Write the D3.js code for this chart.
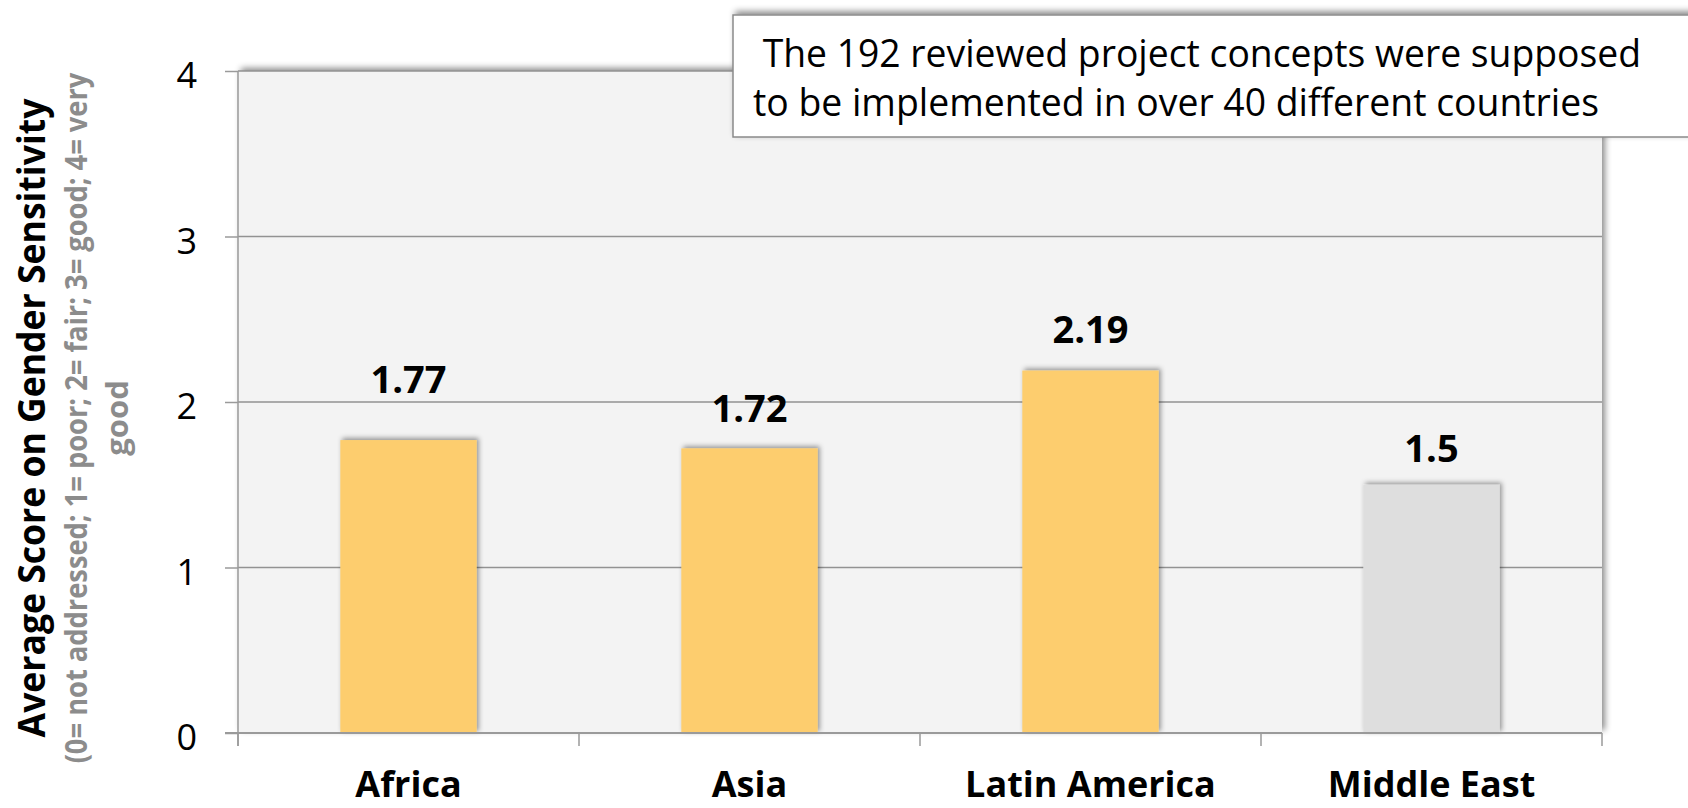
<!DOCTYPE html>
<html>
<head>
<meta charset="utf-8">
<script src="https://cdn.jsdelivr.net/npm/d3@7"></script>
<style>
  html, body { margin: 0; padding: 0; background: #fff; }
  svg { display: block; }
</style>
</head>
<body>
<svg id="chart" width="1688" height="808"></svg>
<script>
// ---------------- data ----------------
const categories = ["Africa", "Asia", "Latin America", "Middle East"];
const scores = [1.77, 1.72, 2.19, 1.5];
const valueLabels = ["1.77", "1.72", "2.19", "1.5"];
const yTicks = [0, 1, 2, 3, 4];
const yTickLabels = ["0", "1", "2", "3", "4"];
const yTitle = "Average Score on Gender Sensitivity";
const ySubtitle = ["(0= not addressed; 1= poor; 2= fair; 3= good; 4= very", "good"];
const noteLines = [" The 192 reviewed project concepts were supposed", "to be implemented in over 40 different countries"];

// ---------------- layout / style ----------------
const W = 1688, H = 808;
const plot = { left: 238, right: 1602, top: 71, bottom: 733 };
const barYellow = "#fdcd6e", barGrey = "#dedede";
const labelLift = [47, 26, 28, 23];

const svg = d3.select("#chart");
svg.append("rect").attr("width", W).attr("height", H).attr("fill", "#fff");

const defs = svg.append("defs");
const f1 = defs.append("filter").attr("id", "shadowPlot")
  .attr("x", "-5%").attr("y", "-10%").attr("width", "115%").attr("height", "120%");
f1.append("feDropShadow").attr("dx", 3).attr("dy", -3).attr("stdDeviation", 3)
  .attr("flood-color", "#000").attr("flood-opacity", 0.45);
const f2 = defs.append("filter").attr("id", "shadowBar")
  .attr("x", "-20%").attr("y", "-20%").attr("width", "140%").attr("height", "140%");
f2.append("feDropShadow").attr("dx", 2).attr("dy", -2).attr("stdDeviation", 2.5)
  .attr("flood-color", "#000").attr("flood-opacity", 0.4);

const x = d3.scaleBand().domain(categories)
  .range([plot.left, plot.right]).paddingInner(0.6).paddingOuter(0.3);
const y = d3.scaleLinear().domain([0, 4]).range([plot.bottom, plot.top]);
const color = d3.scaleOrdinal().domain(categories)
  .range(categories.map(c => c === "Middle East" ? barGrey : barYellow));

// plot background
svg.append("rect")
  .attr("x", plot.left).attr("y", plot.top)
  .attr("width", plot.right - plot.left).attr("height", plot.bottom - plot.top)
  .attr("fill", "#f3f3f3")
  .attr("filter", "url(#shadowPlot)");

// gridlines
svg.append("g").selectAll("line").data(yTicks.filter(t => t > 0)).join("line")
  .attr("x1", plot.left).attr("x2", plot.right)
  .attr("y1", d => y(d)).attr("y2", d => y(d))
  .attr("stroke", "#929292").attr("stroke-width", 1.5);

// bars
const data = categories.map((c, i) => ({ c, v: scores[i], label: valueLabels[i], lift: labelLift[i] }));
svg.append("g").selectAll("rect").data(data).join("rect")
  .attr("x", d => x(d.c)).attr("width", x.bandwidth())
  .attr("y", d => y(d.v)).attr("height", d => y(0) - y(d.v))
  .attr("fill", d => color(d.c))
  .attr("filter", "url(#shadowBar)");

// value labels
svg.append("g").selectAll("text").data(data).join("text")
  .attr("x", d => x(d.c) + x.bandwidth() / 2)
  .attr("y", d => y(d.v) - d.lift)
  .attr("text-anchor", "middle")
  .attr("font-family", "'Open Sans', sans-serif")
  .attr("font-weight", 700).attr("font-size", 38).attr("fill", "#000")
  .text(d => d.label);

// y axis
const yAxis = d3.axisLeft(y).tickValues(yTicks)
  .tickFormat((d, i) => yTickLabels[i]).tickSize(13).tickPadding(28);
const gy = svg.append("g").attr("transform", `translate(${plot.left},0)`).call(yAxis);
gy.select(".domain").remove();
gy.selectAll(".tick line").attr("stroke", "#9a9a9a").attr("stroke-width", 1.5);
gy.selectAll(".tick text")
  .attr("font-family", "'Open Sans', sans-serif")
  .attr("font-size", 36).attr("fill", "#000").attr("dy", "0.47em");
svg.append("line")
  .attr("x1", plot.left).attr("x2", plot.left)
  .attr("y1", plot.top).attr("y2", plot.bottom + 13)
  .attr("stroke", "#9a9a9a").attr("stroke-width", 1.5);

// x axis
svg.append("line")
  .attr("x1", plot.left - 13).attr("x2", plot.right)
  .attr("y1", plot.bottom).attr("y2", plot.bottom)
  .attr("stroke", "#9a9a9a").attr("stroke-width", 2);
const boundaries = categories.map((c, i) => plot.left + i * x.step());
boundaries.push(plot.right);
svg.append("g").selectAll("line").data(boundaries).join("line")
  .attr("x1", d => d).attr("x2", d => d)
  .attr("y1", plot.bottom).attr("y2", plot.bottom + 13)
  .attr("stroke", "#9a9a9a").attr("stroke-width", 1.5);
svg.append("g").selectAll("text").data(categories).join("text")
  .attr("x", d => x(d) + x.bandwidth() / 2)
  .attr("y", 797)
  .attr("text-anchor", "middle")
  .attr("font-family", "'Open Sans', sans-serif")
  .attr("font-weight", 700).attr("font-size", 36).attr("fill", "#000")
  .text(d => d);

// y axis titles: rotated, horizontally compressed to the reference length
const titleCy = 418;
function rotatedText(txt, bx, size, fill, targetLen) {
  const t = svg.append("text")
    .attr("text-anchor", "middle")
    .attr("font-family", "'Open Sans', sans-serif")
    .attr("font-weight", 700).attr("font-size", size).attr("fill", fill)
    .text(txt);
  let s = 1;
  if (targetLen) s = targetLen / t.node().getComputedTextLength();
  t.attr("transform", `translate(${bx},${titleCy}) rotate(-90) scale(${s},1)`);
  return t;
}
rotatedText(yTitle, 45, 38, "#000", 639);
rotatedText(ySubtitle[0], 87, 31, "#8c8c8c", 691);
rotatedText(ySubtitle[1], 128, 31, "#8c8c8c", null);

// note box
svg.append("rect")
  .attr("x", 733).attr("y", 15).attr("width", 1000).attr("height", 122)
  .attr("fill", "#fff").attr("stroke", "#8a8a8a").attr("stroke-width", 1.5)
  .attr("filter", "url(#shadowPlot)");
svg.append("text")
  .attr("x", 753).attr("y", 67)
  .attr("font-family", "'Open Sans', sans-serif")
  .attr("font-size", 38).attr("fill", "#000")
  .attr("xml:space", "preserve").style("white-space", "pre")
  .attr("textLength", 888).attr("lengthAdjust", "spacingAndGlyphs")
  .text(noteLines[0]);
svg.append("text")
  .attr("x", 753).attr("y", 116)
  .attr("font-family", "'Open Sans', sans-serif")
  .attr("font-size", 38).attr("fill", "#000")
  .attr("textLength", 846).attr("lengthAdjust", "spacingAndGlyphs")
  .text(noteLines[1]);
</script>
</body>
</html>
